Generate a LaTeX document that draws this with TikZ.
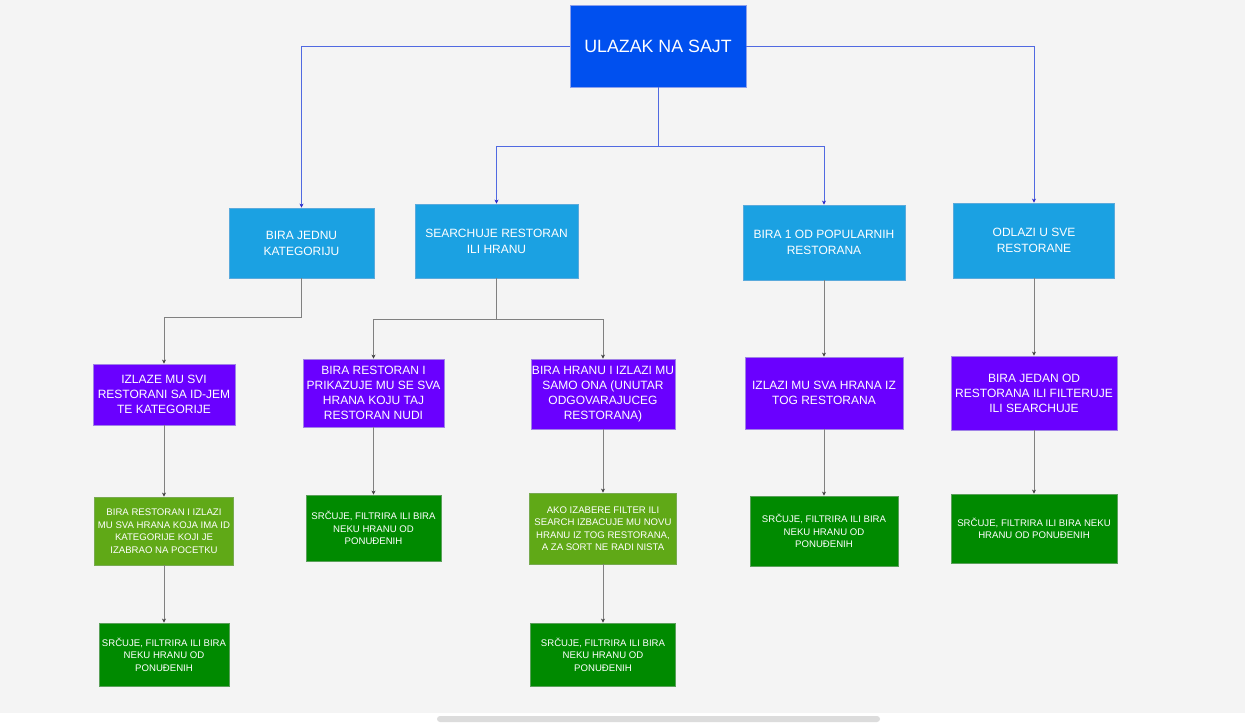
\documentclass[tikz,border=0pt]{standalone}
\usepackage{fontspec}
\setmainfont{Liberation Sans}
\usetikzlibrary{arrows.meta}
\definecolor{bg}{RGB}{244,244,244}
\definecolor{rootc}{RGB}{0,80,239}
\definecolor{rootb}{RGB}{140,160,235}
\definecolor{lvl2}{RGB}{27,161,226}
\definecolor{lvl2b}{RGB}{90,170,220}
\definecolor{purp}{RGB}{106,0,255}
\definecolor{purpb}{RGB}{160,130,230}
\definecolor{lgreen}{RGB}{96,169,23}
\definecolor{lgreenb}{RGB}{120,170,80}
\definecolor{dgreen}{RGB}{0,138,0}
\definecolor{dgreenb}{RGB}{90,160,90}
\definecolor{blueline}{RGB}{80,105,225}
\definecolor{bluetip}{RGB}{40,40,200}
\definecolor{greyline}{RGB}{128,128,128}
\definecolor{scrollc}{RGB}{220,220,220}
\tikzset{
  box/.style={rectangle, inner sep=0pt, align=center, text=white, line width=0.8pt},
  rootbox/.style={box, fill=rootc, draw=rootb, font=\fontsize{17.8}{20}\selectfont},
  bluebox/.style={box, fill=lvl2, draw=lvl2b, font=\fontsize{12}{16}\selectfont},
  purpbox/.style={box, fill=purp, draw=purpb, font=\fontsize{12}{15}\selectfont},
  lgbox/.style={box, fill=lgreen, draw=lgreenb, font=\fontsize{9.6}{12.5}\selectfont},
  dgbox/.style={box, fill=dgreen, draw=dgreenb, font=\fontsize{9.6}{12.5}\selectfont},
  blink/.style={draw=blueline, line width=0.8pt, -{Stealth[length=4pt,width=4pt,color=bluetip]}},
  glink/.style={draw=greyline, line width=0.8pt, -{Stealth[length=4pt,width=4pt,color=black!75]}},
}
\begin{document}
\begin{tikzpicture}[x=1pt,y=-1pt]
\useasboundingbox (0,0) rectangle (1245,723);
\fill[bg] (0,0) rectangle (1245,713);
\fill[white] (0,713) rectangle (1245,723);
\fill[scrollc, rounded corners=3pt] (437,716) rectangle (880,722);

\node[rootbox, minimum width=176pt, minimum height=82pt] (root) at (658,46) {ULAZAK NA SAJT};

\node[bluebox, minimum width=145pt, minimum height=70pt] (A) at (301.5,243) {BIRA JEDNU\\KATEGORIJU};
\node[bluebox, minimum width=163pt, minimum height=74pt] (B) at (496.5,241) {SEARCHUJE RESTORAN\\ILI HRANU};
\node[bluebox, minimum width=162pt, minimum height=75pt] (C) at (824,242.5) {BIRA 1 OD POPULARNIH\\RESTORANA};
\node[bluebox, minimum width=161pt, minimum height=75pt] (D) at (1034,240.5) {ODLAZI U SVE\\RESTORANE};

\node[purpbox, minimum width=142pt, minimum height=61pt] (A3) at (164,394.5) {IZLAZE MU SVI\\RESTORANI SA ID-JEM\\TE KATEGORIJE};
\node[purpbox, minimum width=141pt, minimum height=68pt] (B3) at (373.5,393) {BIRA RESTORAN I\\PRIKAZUJE MU SE SVA\\HRANA KOJU TAJ\\RESTORAN NUDI};
\node[purpbox, minimum width=144pt, minimum height=70pt] (B3b) at (603,394) {BIRA HRANU I IZLAZI MU\\SAMO ONA (UNUTAR\\ODGOVARAJUCEG\\RESTORANA)};
\node[purpbox, minimum width=158pt, minimum height=72pt] (C3) at (824,393) {IZLAZI MU SVA HRANA IZ\\TOG RESTORANA};
\node[purpbox, minimum width=166pt, minimum height=74pt] (D3) at (1034,393) {BIRA JEDAN OD\\RESTORANA ILI FILTERUJE\\ILI SEARCHUJE};

\node[lgbox, minimum width=139pt, minimum height=68pt] (A4) at (164,531) {BIRA RESTORAN I IZLAZI\\MU SVA HRANA KOJA IMA ID\\KATEGORIJE KOJI JE\\IZABRAO NA POCETKU};
\node[dgbox, minimum width=135pt, minimum height=66pt] (B4) at (373.5,528) {SRČUJE, FILTRIRA ILI BIRA\\NEKU HRANU OD\\PONUĐENIH};
\node[lgbox, minimum width=147pt, minimum height=71pt] (B4b) at (603,528.5) {AKO IZABERE FILTER ILI\\SEARCH IZBACUJE MU NOVU\\HRANU IZ TOG RESTORANA,\\A ZA SORT NE RADI NISTA};
\node[dgbox, minimum width=148pt, minimum height=70pt] (C4) at (824,531) {SRČUJE, FILTRIRA ILI BIRA\\NEKU HRANU OD\\PONUĐENIH};
\node[dgbox, minimum width=166pt, minimum height=69pt] (D4) at (1034,528.5) {SRČUJE, FILTRIRA ILI BIRA NEKU\\HRANU OD PONUĐENIH};

\node[dgbox, minimum width=130pt, minimum height=63pt] (A5) at (164,654.5) {SRČUJE, FILTRIRA ILI BIRA\\NEKU HRANU OD\\PONUĐENIH};
\node[dgbox, minimum width=145pt, minimum height=63pt] (B5) at (603,654.5) {SRČUJE, FILTRIRA ILI BIRA\\NEKU HRANU OD\\PONUĐENIH};

% root connectors
\draw[blink] (root.west) -| (A.north);
\draw[blink] (root.east) -| (D.north);
\coordinate (rj) at (658,146);
\draw[blink] (root.south) -- (rj) -| (B.north);
\draw[blink] (rj) -| (C.north);

% level 2 to 3
\coordinate (aj) at (301.5,317);
\draw[glink] (A.south) -- (aj) -| (A3.north);
\coordinate (bj) at (496.5,319);
\draw[glink] (B.south) -- (bj) -| (B3.north);
\draw[glink] (bj) -| (B3b.north);
\draw[glink] (C.south) -- (C3.north);
\draw[glink] (D.south) -- (D3.north);

% level 3 to 4 to 5
\draw[glink] (A3.south) -- (A4.north);
\draw[glink] (A4.south) -- (A5.north);
\draw[glink] (B3.south) -- (B4.north);
\draw[glink] (B3b.south) -- (B4b.north);
\draw[glink] (B4b.south) -- (B5.north);
\draw[glink] (C3.south) -- (C4.north);
\draw[glink] (D3.south) -- (D4.north);
\end{tikzpicture}
\end{document}
